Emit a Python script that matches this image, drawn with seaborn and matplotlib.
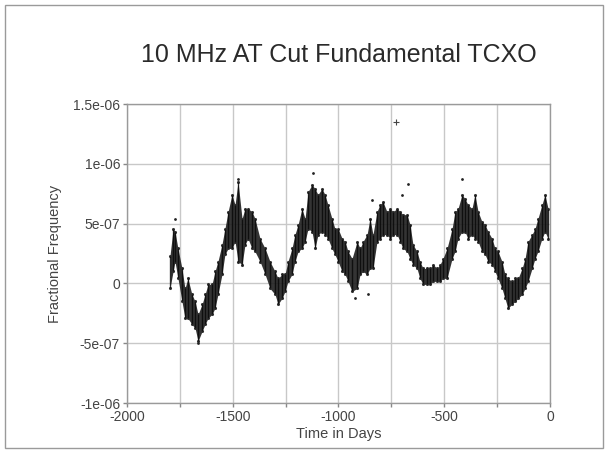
import numpy as np
import pandas as pd
import seaborn as sns
import matplotlib.pyplot as plt
from matplotlib.patches import Rectangle

# values, frequency in units of 1e-7
days = [-1797, -1782, -1773, -1759, -1740, -1726, -1712, -1693, -1678, -1664,
        -1645, -1631, -1617, -1598, -1584, -1570, -1551, -1537, -1522, -1504,
        -1489, -1475, -1456, -1442, -1428, -1409, -1395, -1371, -1347, -1324,
        -1300, -1286, -1267, -1253, -1239, -1220, -1206, -1191, -1173, -1158,
        -1144, -1125, -1111, -1097, -1078, -1064, -1050, -1031, -1017, -1002,
        -983, -969, -955, -936, -912, -898, -884, -865, -851, -837,
        -818, -804, -790, -771, -756, -742, -723, -709, -695, -676,
        -662, -648, -629, -615, -600, -582, -567, -553, -534, -520,
        -506, -487, -463, -449, -435, -416, -402, -388, -369, -355,
        -340, -322, -307, -293, -274, -260, -246, -227, -213, -199,
        -180, -165, -151, -132, -118, -104, -85, -71, -57, -38, -24, -9]
freq_hi = [2.25, 4.58, 4.33, 2.92, 1.25, -0.42, 0.42, -0.92, -1.5, -2.58,
           -1.75, -0.92, -0.08, -0.08, 1.0, 1.83, 3.25, 4.58, 6.0, 7.42,
           6.58, 8.5, 5.42, 6.25, 6.25, 6.0, 5.42, 3.75, 2.92, 1.83,
           1.0, 0.42, 0.75, 0.75, 1.83, 2.92, 4.08, 4.92, 6.25, 5.42,
           7.67, 8.25, 7.92, 7.42, 7.92, 7.42, 6.58, 5.42, 4.58, 4.58,
           3.75, 3.5, 2.67, 2.08, 3.5, 2.92, 3.5, 4.08, 5.42, 4.08,
           6.0, 6.58, 6.83, 6.0, 6.25, 6.0, 6.25, 6.0, 5.75, 5.75,
           4.92, 3.25, 2.67, 1.83, 1.25, 1.25, 1.25, 1.58, 1.25, 1.58,
           2.08, 2.92, 4.58, 6.0, 6.25, 7.42, 7.08, 6.58, 6.25, 7.42,
           6.0, 5.17, 4.92, 4.33, 3.75, 2.92, 2.67, 1.83, 0.75, 0.42,
           0.17, 0.42, 0.42, 1.25, 2.08, 3.5, 4.08, 4.58, 5.42, 6.58, 7.42, 6.25]
freq_lo = [-0.42, 1.0, 1.83, 0.42, -1.5, -2.92, -2.92, -3.42, -3.75, -4.83,
           -4.0, -3.42, -2.92, -2.58, -2.08, -0.92, 0.75, 2.42, 2.92, 2.92,
           3.5, 1.83, 1.58, 3.25, 3.75, 2.92, 2.67, 1.83, 0.75, -0.42,
           -0.92, -1.75, -1.25, -0.67, 0.17, 0.75, 1.83, 2.67, 2.92, 3.5,
           4.58, 4.33, 2.92, 4.08, 4.33, 4.08, 3.75, 2.92, 2.42, 1.83,
           1.0, 0.75, 0.17, -0.67, -0.42, 0.75, 1.0, 0.75, 1.25, 1.25,
           3.5, 3.75, 4.08, 4.08, 3.75, 4.08, 4.08, 3.5, 2.92, 2.67,
           2.08, 1.58, 1.25, 0.42, -0.08, -0.08, -0.08, 0.17, 0.17, 0.17,
           0.42, 0.42, 2.08, 2.67, 3.75, 4.33, 4.33, 3.75, 4.08, 3.75,
           3.5, 2.67, 2.42, 1.83, 1.58, 1.0, 0.42, -0.42, -1.25, -2.08,
           -1.75, -1.5, -1.25, -0.92, -0.42, 0.17, 1.25, 2.08, 2.67, 3.75, 4.33, 3.75]

# stray points outside the main band
out_days = [-1773, -1664, -1475, -1121, -922, -860, -842, -700, -671, -416]
out_vals = [5.4, -5.0, 8.75, 9.2, -1.25, -0.9, 7.0, 7.4, 8.3, 8.75]
spike_day = [-730]
spike_val = [13.5]

x_ticks = [-2000, -1750, -1500, -1250, -1000, -750, -500, -250, 0]
x_labels = ['-2000', '', '-1500', '', '-1000', '', '-500', '', '0']
y_ticks = [-1e-6, -5e-7, 0, 5e-7, 1e-6, 1.5e-6]
y_labels = ['-1e-06', '-5e-07', '0', '5e-07', '1e-06', '1.5e-06']

band = pd.DataFrame({
    'day': days + days,
    'freq': [v * 1e-7 for v in freq_hi + freq_lo],
})
outliers = pd.DataFrame({'day': out_days, 'freq': [v * 1e-7 for v in out_vals]})
spike = pd.DataFrame({'day': spike_day, 'freq': [v * 1e-7 for v in spike_val]})

sns.set_theme(style='white')
plt.rcParams['font.family'] = ['Liberation Sans', 'DejaVu Sans']
txt = '#444444'

fig = plt.figure(figsize=(6.07, 4.51), dpi=100)
ax = fig.add_axes([0.2092, 0.1064, 0.6969, 0.663])

# filled min-max envelope of the cloud
sns.lineplot(data=band, x='day', y='freq', errorbar=('pi', 100),
             color='#1e1e1e', lw=0, err_kws={'alpha': 0.9, 'linewidth': 0},
             ax=ax)
# vertical scatter streaks at each sample
sns.lineplot(data=band, x='day', y='freq', units='day', estimator=None,
             color='#000000', lw=1.0, alpha=0.7, solid_capstyle='butt', ax=ax)
# fuzzy edge dots at the band limits
sns.scatterplot(data=band, x='day', y='freq', color='#333333', s=5,
                linewidth=0, ax=ax)
sns.scatterplot(data=outliers, x='day', y='freq', color='#222222', s=4,
                linewidth=0, ax=ax)
sns.scatterplot(data=spike, x='day', y='freq', color='#444444', marker='+',
                s=25, linewidth=0.8, ax=ax)

ax.set_xlim(-2000, 0)
ax.set_ylim(-1e-6, 1.5e-6)
ax.set_xticks(x_ticks)
ax.set_xticklabels(x_labels)
ax.set_yticks(y_ticks)
ax.set_yticklabels(y_labels)
ax.grid(True, color='#c8c8c8', lw=1)
ax.tick_params(axis='both', colors='#888888', labelcolor=txt, labelsize=10,
               length=3, width=1, direction='out', bottom=True, left=True, pad=2)
for sp in ax.spines.values():
    sp.set_color('#9a9a9a')
    sp.set_linewidth(1)

ax.set_xlabel('Time in Days', color=txt, fontsize=10.5, labelpad=2)
ax.set_ylabel('Fractional Frequency', color=txt, fontsize=10.5, labelpad=8)
fig.text(0.559, 0.877, '10 MHz AT Cut Fundamental TCXO', ha='center',
         va='center', fontsize=18, color='#2a2a2a')

fig.patches.append(Rectangle((5 / 607, 3 / 451), 598 / 607, 443 / 451,
                             transform=fig.transFigure, fill=False,
                             edgecolor='#9a9a9a', lw=1))

plt.savefig('out.png', dpi=100)
